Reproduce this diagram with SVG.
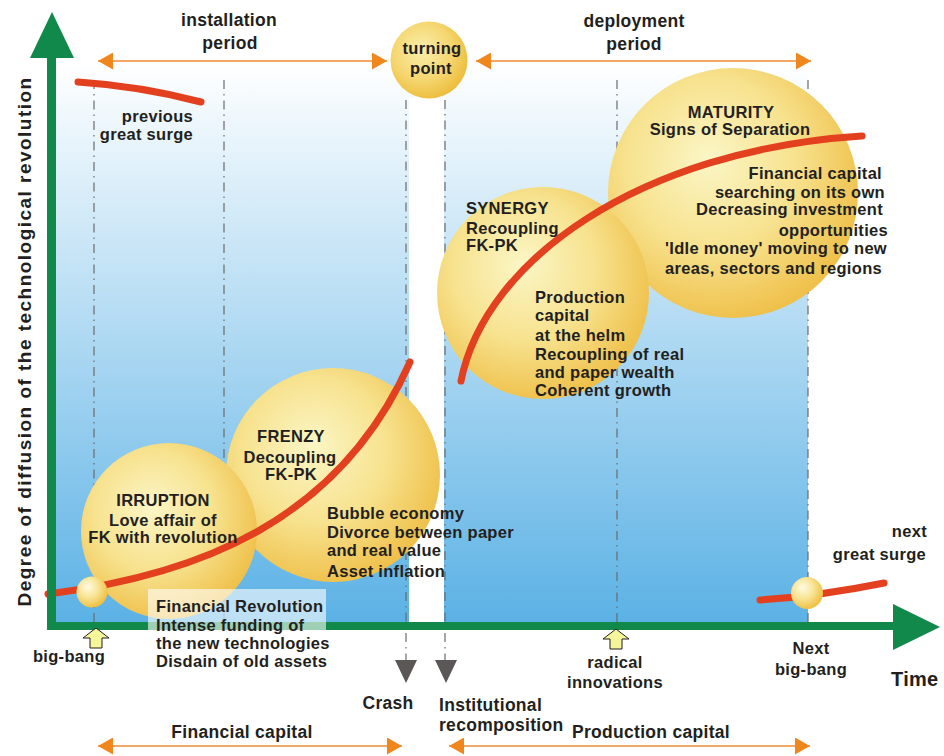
<svg xmlns="http://www.w3.org/2000/svg" width="944" height="756" viewBox="0 0 944 756">
  <style>
    text { font-family: "Liberation Sans", Arial, sans-serif; font-weight: bold; fill: #231f20; letter-spacing: 0.3px; }
    .t16 { font-size: 16.5px; }
    .t17 { font-size: 17.5px; }
    .mid { text-anchor: middle; }
    .end { text-anchor: end; }
    .guide { stroke: #6b6b6b; stroke-width: 1.2; stroke-dasharray: 9 5 1.5 5; fill: none; }
    .surge { stroke: #e2401f; stroke-width: 7; stroke-linecap: round; fill: none; }
    .span { stroke: #f4a868; stroke-width: 2; fill: none; marker-start: url(#orangeHead); marker-end: url(#orangeHead); }
    .axis { fill: #10894a; }
    .bubble { fill: url(#sphere); }
    .ball { fill: url(#smallSphere); }
    .drop { fill: #5a5756; }
    .tick { fill: #f5f59a; stroke: #231f20; stroke-width: 1; }
  </style>
  <defs>
    <linearGradient id="sky" x1="0" y1="0" x2="0" y2="1">
      <stop offset="0" stop-color="#ffffff"/>
      <stop offset="1" stop-color="#5ab1e5"/>
    </linearGradient>
    <radialGradient id="sphere" cx="0.42" cy="0.4" r="0.62" fx="0.4" fy="0.36">
      <stop offset="0" stop-color="#fbf6c6"/>
      <stop offset="0.55" stop-color="#f7e28e"/>
      <stop offset="1" stop-color="#efc04a"/>
    </radialGradient>
    <radialGradient id="turnSphere" cx="0.42" cy="0.4" r="0.62" fx="0.4" fy="0.36">
      <stop offset="0" stop-color="#faeeac"/>
      <stop offset="0.6" stop-color="#f5d772"/>
      <stop offset="1" stop-color="#edbd3c"/>
    </radialGradient>
    <radialGradient id="smallSphere" cx="0.4" cy="0.38" r="0.65" fx="0.36" fy="0.32">
      <stop offset="0" stop-color="#fffbe3"/>
      <stop offset="0.5" stop-color="#f8e597"/>
      <stop offset="1" stop-color="#eebd3e"/>
    </radialGradient>
    <marker id="orangeHead" viewBox="0 0 15 17" refX="15" refY="8.5" markerWidth="15" markerHeight="17" markerUnits="userSpaceOnUse" orient="auto-start-reverse">
      <path d="M0,0 L15,8.5 L0,17 z" fill="#f0871c"/>
    </marker>
    <path id="dropArrow" d="M-11,0 L11,0 L0,23 z"/>
    <path id="upArrow" d="M0,0 L13,10 L6,10 L6,20 L-6,20 L-6,10 L-13,10 z"/>
  </defs>

  <!-- plotting field -->
  <rect x="56" y="62" width="752" height="564" fill="url(#sky)"/>
  <rect x="409" y="98" width="35" height="526" fill="#ffffff"/>

  <!-- phase boundaries -->
  <g id="guides">
    <line class="guide" x1="94" y1="80" x2="94" y2="626"/>
    <line class="guide" x1="224" y1="80" x2="224" y2="626"/>
    <line class="guide" x1="406" y1="100" x2="406" y2="660"/>
    <line class="guide" x1="445" y1="100" x2="445" y2="660"/>
    <line class="guide" x1="617" y1="80" x2="617" y2="626"/>
    <line class="guide" x1="808" y1="80" x2="808" y2="626"/>
  </g>

  <!-- phases -->
  <g id="maturity">
    <circle class="bubble" cx="733" cy="193" r="125"/>
  </g>
  <g id="synergy">
    <circle class="bubble" cx="543" cy="293" r="106"/>
  </g>
  <g id="frenzy">
    <circle class="bubble" cx="333" cy="475" r="107"/>
  </g>
  <g id="irruption">
    <circle class="bubble" cx="169" cy="531" r="88"/>
  </g>

  <!-- surge curves and arrows -->
  <g id="connectors">
    <path class="surge" d="M78,82 Q140,86 201,102"/>
    <path class="surge" d="M48,594 C200,575 340,520 410,362"/>
    <path class="surge" d="M461,381 C485,260 640,150 862,136"/>
    <path class="surge" d="M760,600 Q820,596 884,583"/>
    <line class="span" x1="98" y1="61" x2="387" y2="61"/>
    <line class="span" x1="476" y1="61" x2="811" y2="61"/>
    <line class="span" x1="98" y1="746" x2="402" y2="746"/>
    <line class="span" x1="449" y1="746" x2="810" y2="746"/>
    <use href="#dropArrow" class="drop" x="406" y="660"/>
    <use href="#dropArrow" class="drop" x="446" y="660"/>
  </g>

  <g id="turning-point">
    <circle cx="429" cy="60" r="38.5" fill="url(#turnSphere)"/>
    <text class="t16 mid" x="432" y="54">turning</text>
    <text class="t16 mid" x="431" y="74">point</text>
  </g>

  <!-- phase texts -->
  <g id="irruption-text">
    <text class="t16 mid" x="163" y="506">IRRUPTION</text>
    <text class="t16 mid" x="163" y="526">Love affair of</text>
    <text class="t16 mid" x="163" y="543">FK with revolution</text>
  </g>
  <g id="frenzy-text">
    <text class="t16 mid" x="291" y="442">FRENZY</text>
    <text class="t16 mid" x="290" y="463">Decoupling</text>
    <text class="t16 mid" x="291" y="480">FK-PK</text>
    <text class="t16" x="327" y="519">Bubble economy</text>
    <text class="t16" x="327" y="538">Divorce between paper</text>
    <text class="t16" x="327" y="556">and real value</text>
    <text class="t16" x="327" y="577">Asset inflation</text>
  </g>
  <g id="synergy-text">
    <text class="t16" x="466" y="214">SYNERGY</text>
    <text class="t16" x="466" y="234">Recoupling</text>
    <text class="t16" x="466" y="251">FK-PK</text>
    <text class="t16" x="535" y="303">Production</text>
    <text class="t16" x="535" y="321">capital</text>
    <text class="t16" x="535" y="341">at the helm</text>
    <text class="t16" x="535" y="360">Recoupling of real</text>
    <text class="t16" x="535" y="378">and paper wealth</text>
    <text class="t16" x="535" y="396">Coherent growth</text>
  </g>
  <g id="maturity-text">
    <text class="t16 mid" x="731" y="118">MATURITY</text>
    <text class="t16 mid" x="730" y="135">Signs of Separation</text>
    <text class="t16 end" x="882" y="179">Financial capital</text>
    <text class="t16 end" x="885" y="198">searching on its own</text>
    <text class="t16 end" x="883" y="215">Decreasing investment</text>
    <text class="t16 end" x="888" y="236">opportunities</text>
    <text class="t16 end" x="887" y="254">'Idle money' moving to new</text>
    <text class="t16 end" x="882" y="274">areas, sectors and regions</text>
  </g>

  <!-- surge labels -->
  <g id="previous-surge">
    <text class="t16 end" x="193" y="122">previous</text>
    <text class="t16 end" x="193" y="140">great surge</text>
  </g>
  <g id="next-surge">
    <text class="t16 end" x="927" y="537">next</text>
    <text class="t16 end" x="926" y="560">great surge</text>
  </g>

  <!-- axes -->
  <g id="axes">
    <rect class="axis" x="47" y="55" width="9" height="575"/>
    <path class="axis" d="M52,12 L74,58 L30,58 z"/>
    <rect class="axis" x="47" y="622" width="848" height="8"/>
    <path class="axis" d="M893,604 L940,627 L893,650 z"/>
    <text x="891" y="686" style="font-size:20px">Time</text>
    <text class="mid" style="font-size:19px" textLength="529" lengthAdjust="spacing" transform="translate(31,342) rotate(-90)">Degree of diffusion of the technological revolution</text>
  </g>

  <g id="big-bang">
    <circle class="ball" cx="92" cy="592" r="15.5"/>
    <use href="#upArrow" class="tick" x="96" y="628"/>
    <text class="t16 mid" x="69" y="662">big-bang</text>
  </g>
  <g id="next-big-bang">
    <circle class="ball" cx="807" cy="593" r="16"/>
    <text class="t16 mid" x="811" y="654">Next</text>
    <text class="t16 mid" x="811" y="675">big-bang</text>
  </g>
  <g id="radical-innovations">
    <use href="#upArrow" class="tick" x="616" y="629"/>
    <text class="t16 mid" x="615" y="668">radical</text>
    <text class="t16 mid" x="615" y="688">innovations</text>
  </g>

  <g id="financial-revolution">
    <rect x="148" y="589" width="178" height="42" fill="#ffffff" fill-opacity="0.6"/>
    <text class="t16" x="156" y="612">Financial Revolution</text>
    <text class="t16" x="156" y="631">Intense funding of</text>
    <text class="t16" x="156" y="649">the new technologies</text>
    <text class="t16" x="156" y="667">Disdain of old assets</text>
  </g>

  <g id="period-labels">
    <text class="t17 mid" x="229" y="26">installation</text>
    <text class="t17 mid" x="230" y="49">period</text>
    <text class="t17 mid" x="634" y="27">deployment</text>
    <text class="t17 mid" x="634" y="50">period</text>
    <text class="t17 mid" x="388" y="709">Crash</text>
    <text class="t17" x="439" y="711">Institutional</text>
    <text class="t17" x="439" y="731">recomposition</text>
    <text class="t17 mid" x="242" y="738">Financial capital</text>
    <text class="t17 mid" x="651" y="738">Production capital</text>
  </g>
</svg>
